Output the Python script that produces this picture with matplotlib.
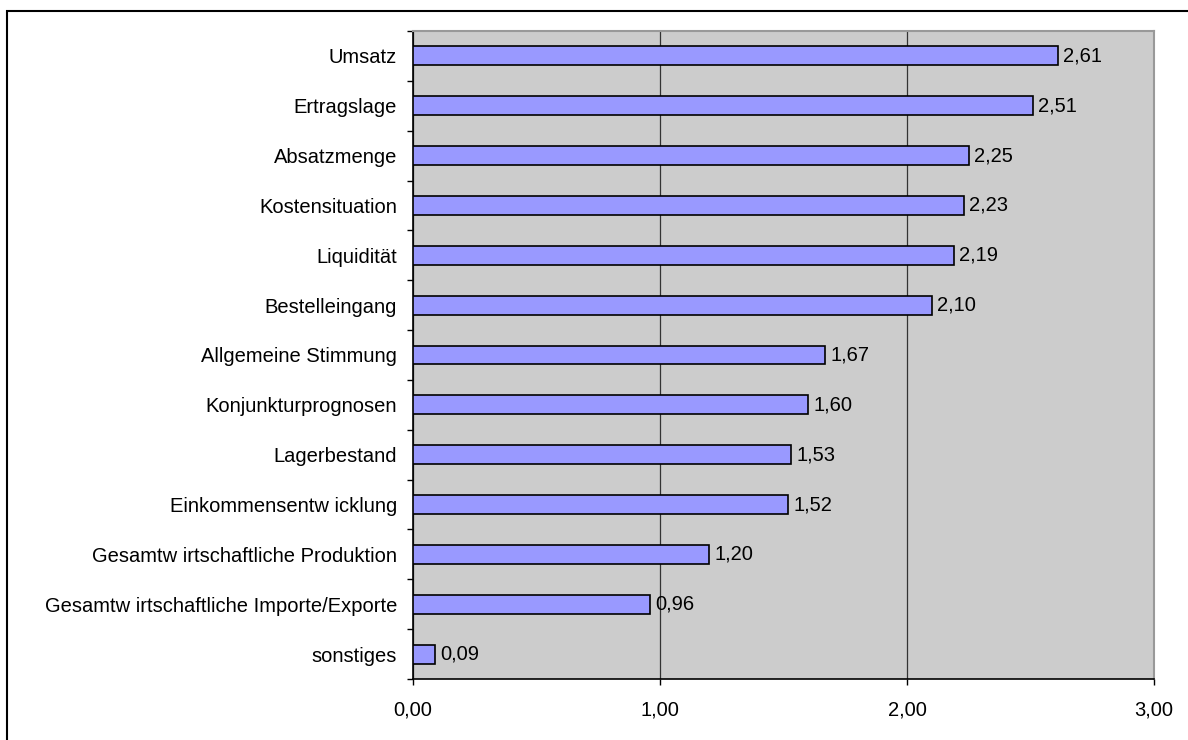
import matplotlib
matplotlib.use("Agg")
import matplotlib.pyplot as plt
import matplotlib.patches as patches
from matplotlib.ticker import FuncFormatter

plt.rcParams['font.family'] = ['Liberation Sans', 'DejaVu Sans']

categories = ['Umsatz', 'Ertragslage', 'Absatzmenge', 'Kostensituation', 'Liquidität',
              'Bestelleingang', 'Allgemeine Stimmung', 'Konjunkturprognosen', 'Lagerbestand',
              'Einkommensentw icklung', 'Gesamtw irtschaftliche Produktion',
              'Gesamtw irtschaftliche Importe/Exporte', 'sonstiges']
values = [2.61, 2.51, 2.25, 2.23, 2.19, 2.10, 1.67, 1.60, 1.53, 1.52, 1.20, 0.96, 0.09]
xticks = [0, 1, 2, 3]

fs = 14.5

fig = plt.figure(figsize=(11.88, 7.40), dpi=100)
ax = fig.add_axes([413/1188, 61/740, 741/1188, 648/740])

# Rahmen um das ganze Diagramm
fig.patches.append(patches.Rectangle((7/1188, -0.1), 1.2, 1.1 - 10.5/740, fill=False,
                                     edgecolor='black', lw=1.5, transform=fig.transFigure))

n = len(categories)
ypos = list(range(n))
ax.barh(ypos, values, height=0.38, color='#9999ff', edgecolor='black', lw=1.2, zorder=3)
for y, v in zip(ypos, values):
    ax.text(v + 0.022, y, f'{v:.2f}'.replace('.', ','), va='center', ha='left', fontsize=fs, zorder=4)

ax.set_facecolor('#cccccc')
ax.set_xlim(0, 3)
ax.set_ylim(n - 0.5, -0.5)
ax.set_xticks(xticks)
ax.xaxis.set_major_formatter(FuncFormatter(lambda x, p: f'{x:.2f}'.replace('.', ',')))
ax.set_yticks(ypos)
ax.set_yticklabels(categories, fontsize=fs)
ax.set_yticks([i - 0.5 for i in range(n + 1)], minor=True)
ax.tick_params(axis='y', which='major', length=0, pad=11.5)
ax.tick_params(axis='y', which='minor', length=4.5, width=1)
ax.tick_params(axis='x', labelsize=fs, length=4.5, width=1, pad=11)
ax.grid(axis='x', color='#333333', lw=0.9, zorder=1)

for s in ['top', 'right']:
    ax.spines[s].set_color('#999999')
    ax.spines[s].set_linewidth(1.5)
for s in ['left', 'bottom']:
    ax.spines[s].set_color('black')
    ax.spines[s].set_linewidth(1.2)

fig.savefig('out.png', dpi=100)
